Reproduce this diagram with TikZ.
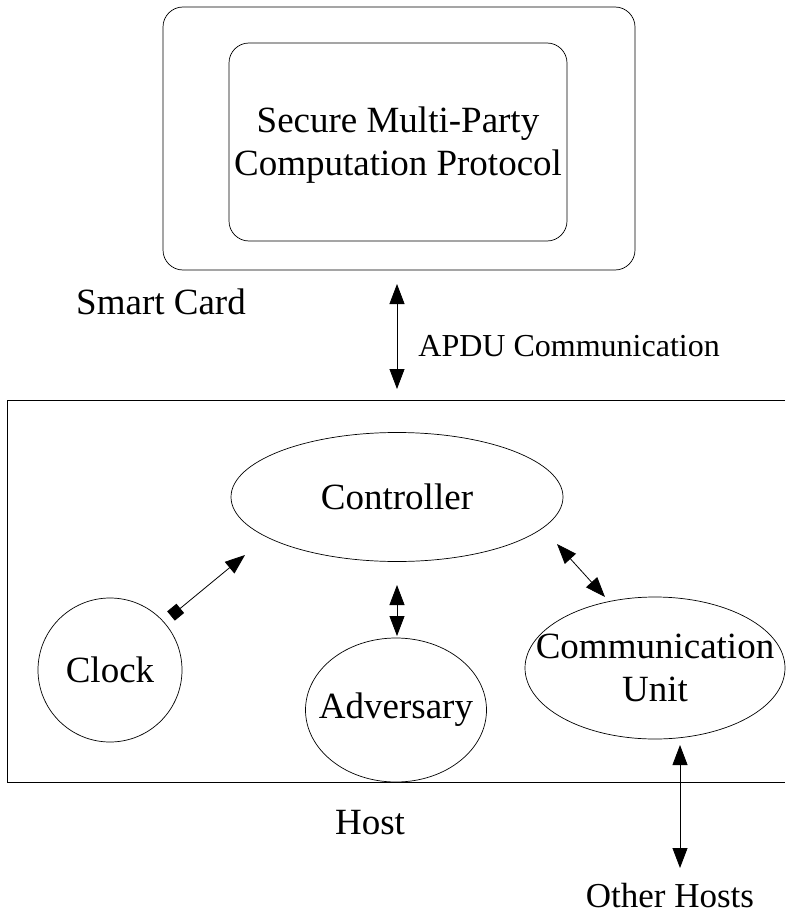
\documentclass[tikz,border=0pt]{standalone}
\usepackage{fontspec}
\setmainfont{Liberation Serif}
\usetikzlibrary{arrows.meta,shapes.geometric}
\begin{document}
\begin{tikzpicture}[x=1pt,y=-1pt,
  line width=0.9pt,
  lbl/.style={font=\fontsize{37}{43}\selectfont, align=center, inner sep=0pt},
  shp/.style={draw, line width=0.7pt},
  rbox/.style={draw, rounded corners=20pt, line width=0.7pt},
  dbl/.style={{Triangle[length=20pt,width=15pt]}-{Triangle[length=20pt,width=15pt]}, line width=0.8pt},
  sqtip/.style={{Square[length=12pt,width=12pt]}-{Triangle[length=20pt,width=15pt]}, line width=0.8pt}
]
\useasboundingbox (0,0) rectangle (785,915);
% smart card
\node[rbox, minimum width=472pt, minimum height=263pt] (card) at (399,138.5) {};
\node[rbox, minimum width=338pt, minimum height=198pt] (proto) at (398,142) {};
\node[lbl] (protolbl) at (398,145) {Secure Multi-Party\\Computation Protocol};
\node[lbl] (sclbl) at (161,302) {Smart Card};
% host box (open at right)
\draw[line width=0.9pt] (785,400) -- (7,400) -- (7,782) -- (785,782);
\node[lbl] (hostlbl) at (370,823) {Host};
% APDU
\coordinate (apduA) at (397,284);
\coordinate (apduB) at (397,389);
\draw[dbl] (apduA) -- (apduB);
\node[lbl, font=\fontsize{32}{38}\selectfont, anchor=west] (apdu) at (418,346) {APDU Communication};
% nodes
\node[lbl] (ctrl) at (397,497) {Controller};
\draw[shp] (ctrl.center) ellipse [x radius=166pt, y radius=64.5pt];
\node[lbl] (clock) at (110,670) {Clock};
\draw[shp] (clock.center) circle [radius=72pt];
\node[lbl] (adv) at (396,710) {Adversary};
\draw[shp] (adv.center) ellipse [x radius=90.5pt, y radius=72pt];
\node[lbl] (comm) at (655,668) {Communication\\Unit};
\draw[shp] (comm.center) ellipse [x radius=130pt, y radius=71pt];
% connectors
\coordinate (ckA) at (171,616);
\coordinate (ckB) at (245,555);
\draw[sqtip] (ckA) -- (ckB);
\coordinate (adA) at (397,585);
\coordinate (adB) at (397,636);
\draw[dbl] (adA) -- (adB);
\coordinate (cmA) at (557,544);
\coordinate (cmB) at (605,597);
\draw[dbl] (cmA) -- (cmB);
\coordinate (ohA) at (680,745);
\coordinate (ohB) at (680,868);
\draw[dbl] (ohA) -- (ohB);
\node[lbl, font=\fontsize{35}{40}\selectfont] (other) at (670,896) {Other Hosts};
\end{tikzpicture}
\end{document}
